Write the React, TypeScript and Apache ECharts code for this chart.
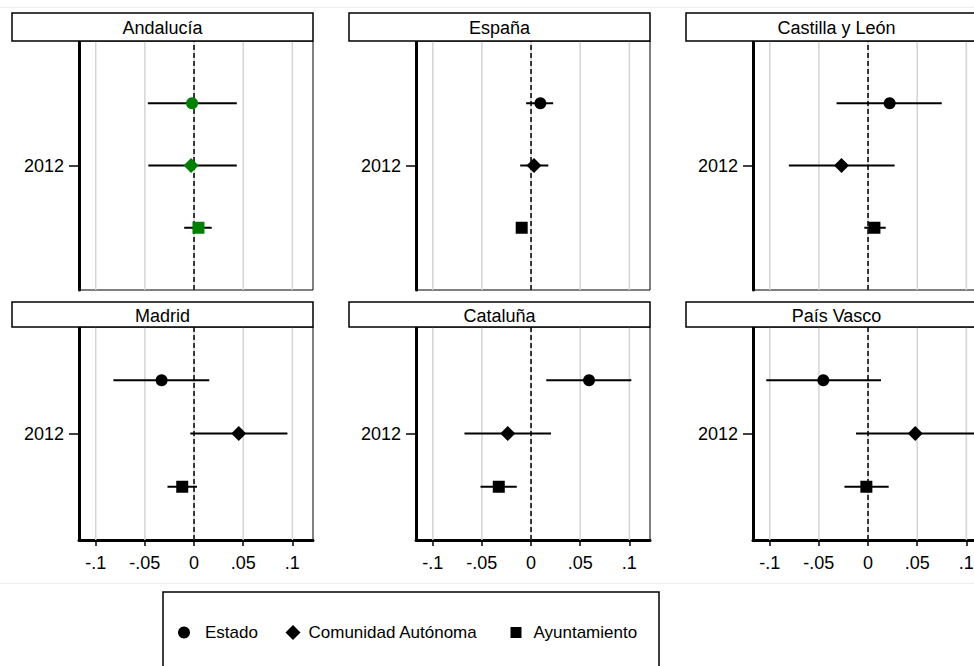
import { useEffect, useRef } from 'react'
import * as echarts from 'echarts'

// panels, left to right, top to bottom
const panels = ['Andalucía', 'España', 'Castilla y León', 'Madrid', 'Cataluña', 'País Vasco']
const panelColors = ['#008000', '#000000', '#000000', '#000000', '#000000', '#000000']

const groups = ['Estado', 'Comunidad Autónoma', 'Ayuntamiento']
const groupSymbols = ['circle', 'diamond', 'rect']
const groupSizes = [12, 15, 12]
const groupRows = [3, 2, 1]

// point estimates and confidence bounds, one value per panel
const estado = [-0.002, 0.0095, 0.022, -0.033, 0.059, -0.0455]
const estadoLo = [-0.047, -0.005, -0.032, -0.082, 0.0155, -0.1035]
const estadoHi = [0.0435, 0.0225, 0.075, 0.0155, 0.102, 0.0132]

const comunidad = [-0.003, 0.003, -0.027, 0.0455, -0.0237, 0.048]
const comunidadLo = [-0.0465, -0.011, -0.0805, -0.0038, -0.0677, -0.0122]
const comunidadHi = [0.0435, 0.0176, 0.027, 0.095, 0.0203, 0.108]

const ayuntamiento = [0.0045, -0.0095, 0.0065, -0.012, -0.0328, -0.0017]
const ayuntamientoLo = [-0.01, -0.0125, -0.0038, -0.027, -0.0514, -0.024]
const ayuntamientoHi = [0.018, -0.0065, 0.018, 0.003, -0.0145, 0.021]

const xTicks = [-0.1, -0.05, 0, 0.05, 0.1]
const xTickLabels = ['-.1', '-.05', '0', '.05', '.1']
const yTicks = [2]
const yTickLabels = ['2012']

const estimates = [estado, comunidad, ayuntamiento]
const lows = [estadoLo, comunidadLo, ayuntamientoLo]
const highs = [estadoHi, comunidadHi, ayuntamientoHi]

const X_MIN = -0.117
const X_MAX = 0.121
const Y_MIN = 0
const Y_MAX = 4

const FONT = '"Liberation Sans", Arial, sans-serif'

// the right column runs past the visible page, as in the original export
const CHART_W = 1000
const CHART_H = 666

const colLeft = [79, 416, 753]
const plotWidth = 234
const rowTop = [41, 327]
const rowHeight = [249, 213]
const boxTop = [13, 302]
const boxHeight = [28, 25]

const xLabel = (v: number) => {
  const k = xTicks.findIndex((t) => Math.abs(t - v) < 1e-9)
  return k >= 0 ? xTickLabels[k] : ''
}
const yLabel = (v: number) => {
  const k = yTicks.findIndex((t) => Math.abs(t - v) < 1e-9)
  return k >= 0 ? yTickLabels[k] : ''
}

export default function App() {
  const ref = useRef<HTMLDivElement | null>(null)

  useEffect(() => {
    if (!ref.current) return
    const chart = echarts.init(ref.current, null, { renderer: 'svg' })

    const grids: any[] = []
    const xAxes: any[] = []
    const yAxes: any[] = []
    const series: any[] = []
    const graphics: any[] = [
      { type: 'line', shape: { x1: 0, y1: 7.5, x2: CHART_W, y2: 7.5 }, style: { stroke: '#eeeeee', lineWidth: 1 } },
      { type: 'line', shape: { x1: 0, y1: 583.5, x2: CHART_W, y2: 583.5 }, style: { stroke: '#eeeeee', lineWidth: 1 } }
    ]

    panels.forEach((name, i) => {
      const r = Math.floor(i / 3)
      const c = i % 3
      const bottomRow = r === 1

      grids.push({
        left: colLeft[c],
        top: rowTop[r],
        width: plotWidth,
        height: rowHeight[r],
        show: true,
        borderColor: '#000',
        borderWidth: 1,
        backgroundColor: 'transparent'
      })

      xAxes.push({
        type: 'value',
        gridIndex: i,
        min: X_MIN,
        max: X_MAX,
        splitLine: { show: false },
        axisLine: { show: bottomRow, onZero: false, lineStyle: { color: '#000', width: 3 } },
        axisTick: {
          show: bottomRow,
          customValues: xTicks,
          length: 6,
          lineStyle: { color: '#000', width: 1.5 }
        },
        axisLabel: {
          show: bottomRow,
          customValues: xTicks,
          formatter: xLabel,
          margin: 14,
          fontSize: 18,
          fontFamily: FONT,
          color: '#000'
        }
      })

      yAxes.push({
        type: 'value',
        gridIndex: i,
        min: Y_MIN,
        max: Y_MAX,
        splitLine: { show: false },
        axisLine: { show: true, onZero: false, lineStyle: { color: '#000', width: 3 } },
        axisTick: {
          show: true,
          customValues: yTicks,
          length: 10,
          lineStyle: { color: '#000', width: 1.5 }
        },
        axisLabel: {
          show: true,
          customValues: yTicks,
          formatter: yLabel,
          margin: 15,
          fontSize: 18,
          fontFamily: FONT,
          color: '#000'
        }
      })

      // vertical grid lines at the x ticks, dashed reference line at zero
      series.push({
        type: 'custom',
        name: 'grid' + i,
        xAxisIndex: i,
        yAxisIndex: i,
        z: 1,
        silent: true,
        clip: true,
        data: xTicks.map((v) => [v, Y_MIN]),
        encode: { x: 0, y: 1 },
        renderItem: (_p: any, api: any) => {
          const v = api.value(0)
          const a = api.coord([v, Y_MIN])
          const b = api.coord([v, Y_MAX])
          const children: any[] = [
            {
              type: 'line',
              shape: { x1: a[0], y1: a[1], x2: b[0], y2: b[1] },
              style: { stroke: '#d4d4d4', lineWidth: 1.5 }
            }
          ]
          if (Math.abs(v) < 1e-9) {
            children.push({
              type: 'line',
              shape: { x1: a[0], y1: a[1], x2: b[0], y2: b[1] },
              style: { stroke: '#000', lineWidth: 1.5, lineDash: [5, 3] }
            })
          }
          return { type: 'group', children }
        }
      })

      // confidence intervals
      series.push({
        type: 'custom',
        name: 'ci' + i,
        xAxisIndex: i,
        yAxisIndex: i,
        z: 2,
        silent: true,
        clip: true,
        data: groups.map((_g, k) => [lows[k][i], highs[k][i], groupRows[k]]),
        encode: { x: [0, 1], y: 2 },
        renderItem: (_p: any, api: any) => {
          const a = api.coord([api.value(0), api.value(2)])
          const b = api.coord([api.value(1), api.value(2)])
          return {
            type: 'line',
            shape: { x1: a[0], y1: a[1], x2: b[0], y2: b[1] },
            style: { stroke: '#000', lineWidth: 2 }
          }
        }
      })

      groups.forEach((g, k) => {
        series.push({
          type: 'scatter',
          name: g,
          xAxisIndex: i,
          yAxisIndex: i,
          z: 3,
          symbol: groupSymbols[k],
          symbolSize: groupSizes[k],
          itemStyle: { color: panelColors[i], opacity: 1 },
          data: [[estimates[k][i], groupRows[k]]]
        })
      })

      const bx = colLeft[c] - 67
      const bw = plotWidth + 67
      graphics.push({
        type: 'rect',
        z: 10,
        shape: { x: bx, y: boxTop[r], width: bw, height: boxHeight[r] },
        style: { fill: '#fff', stroke: '#000', lineWidth: 1.5 }
      })
      graphics.push({
        type: 'text',
        z: 11,
        x: bx + bw / 2,
        y: boxTop[r] + boxHeight[r] / 2 + 1,
        style: {
          text: name,
          font: '18px ' + FONT,
          fill: '#000',
          align: 'center',
          verticalAlign: 'middle',
          textAlign: 'center',
          textVerticalAlign: 'middle'
        }
      })
    })

    // legend frame
    graphics.push({
      type: 'rect',
      z: 0,
      shape: { x: 163, y: 592, width: 496, height: 100 },
      style: { fill: 'transparent', stroke: '#000', lineWidth: 1.5 }
    })

    const legendLeft = [178, 285.5, 510.5]
    const legendIcon = [12, 15, 11]
    const legendPad = [10, 3, 7]

    const option: any = {
      animation: false,
      backgroundColor: '#fff',
      grid: grids,
      xAxis: xAxes,
      yAxis: yAxes,
      series,
      legend: groups.map((g, k) => ({
        data: [{ name: g, icon: groupSymbols[k], itemStyle: { color: '#000' } }],
        left: legendLeft[k],
        top: 624,
        padding: 0,
        itemWidth: legendIcon[k],
        itemHeight: legendIcon[k],
        selectedMode: false,
        textStyle: {
          fontSize: 17,
          fontFamily: FONT,
          color: '#000',
          padding: [0, 0, 0, legendPad[k]]
        }
      })),
      graphic: { elements: graphics }
    }

    chart.setOption(option)

    return () => {
      chart.dispose()
    }
  }, [])

  return (
    <div style={{ position: 'fixed', left: 0, top: 0, width: 974, height: 666, overflow: 'hidden' }}>
      <div ref={ref} style={{ width: CHART_W, height: CHART_H }} />
    </div>
  )
}
